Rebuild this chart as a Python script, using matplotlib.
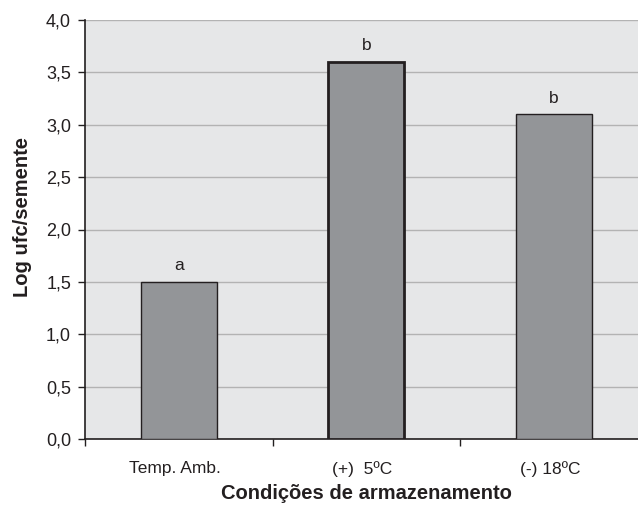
import numpy as np
import matplotlib.pyplot as plt
from matplotlib.ticker import FixedLocator

categories = ["Temp. Amb.", "(+)  5ºC", "(-) 18ºC"]
values = [1.5, 3.6, 3.1]
letters = ["a", "b", "b"]
edge_widths = [1.0, 2.0, 1.0]

plt.rcParams['font.family'] = ['Liberation Sans', 'DejaVu Sans']

W, H = 638, 505
fig = plt.figure(figsize=(W / 100, H / 100), dpi=100)
ax = fig.add_axes([85 / W, (H - 439) / H, 562.5 / W, 419 / H])
ax.set_facecolor('#e6e7e8')

x = np.arange(len(categories))
ax.bar(x, values, width=0.405, color='#939598', edgecolor='#231f20',
       linewidth=edge_widths, zorder=3)

for xi, v, s in zip(x, values, letters):
    ax.text(xi, v + 0.155, s, ha='center', va='center', fontsize=12.5, color='#231f20')

ax.set_xlim(-0.5, 2.5)
ax.set_ylim(0, 4.0)
yt = np.arange(0, 4.01, 0.5)
ax.set_yticks(yt)
ax.set_yticklabels([f"{t:.1f}".replace('.', ',') for t in yt])
ax.yaxis.grid(True, color='#b3b3b3', linewidth=1.0, zorder=1)
ax.set_axisbelow(True)

ax.set_xticks(x - 0.02)
ax.set_xticklabels(categories)
ax.tick_params(axis='x', which='major', length=0, pad=16, labelsize=12.5, colors='#231f20')
ax.xaxis.set_minor_locator(FixedLocator([-0.5, 0.5, 1.5, 2.5]))
ax.tick_params(axis='x', which='minor', length=5, width=1, color='#231f20')
ax.tick_params(axis='y', length=5, width=1, labelsize=13, colors='#231f20', pad=5)

for side in ['top', 'right']:
    ax.spines[side].set_visible(False)
for side in ['left', 'bottom']:
    ax.spines[side].set_color('#231f20')
    ax.spines[side].set_linewidth(1.2)

ax.set_xlabel("Condições de armazenamento", fontsize=14.5, fontweight='bold',
              color='#231f20', labelpad=5)
ax.set_ylabel("Log ufc/semente", fontsize=14.5, fontweight='bold', color='#231f20')
ax.yaxis.set_label_coords(-0.094, 0.53)

fig.savefig("out.png", dpi=100)
